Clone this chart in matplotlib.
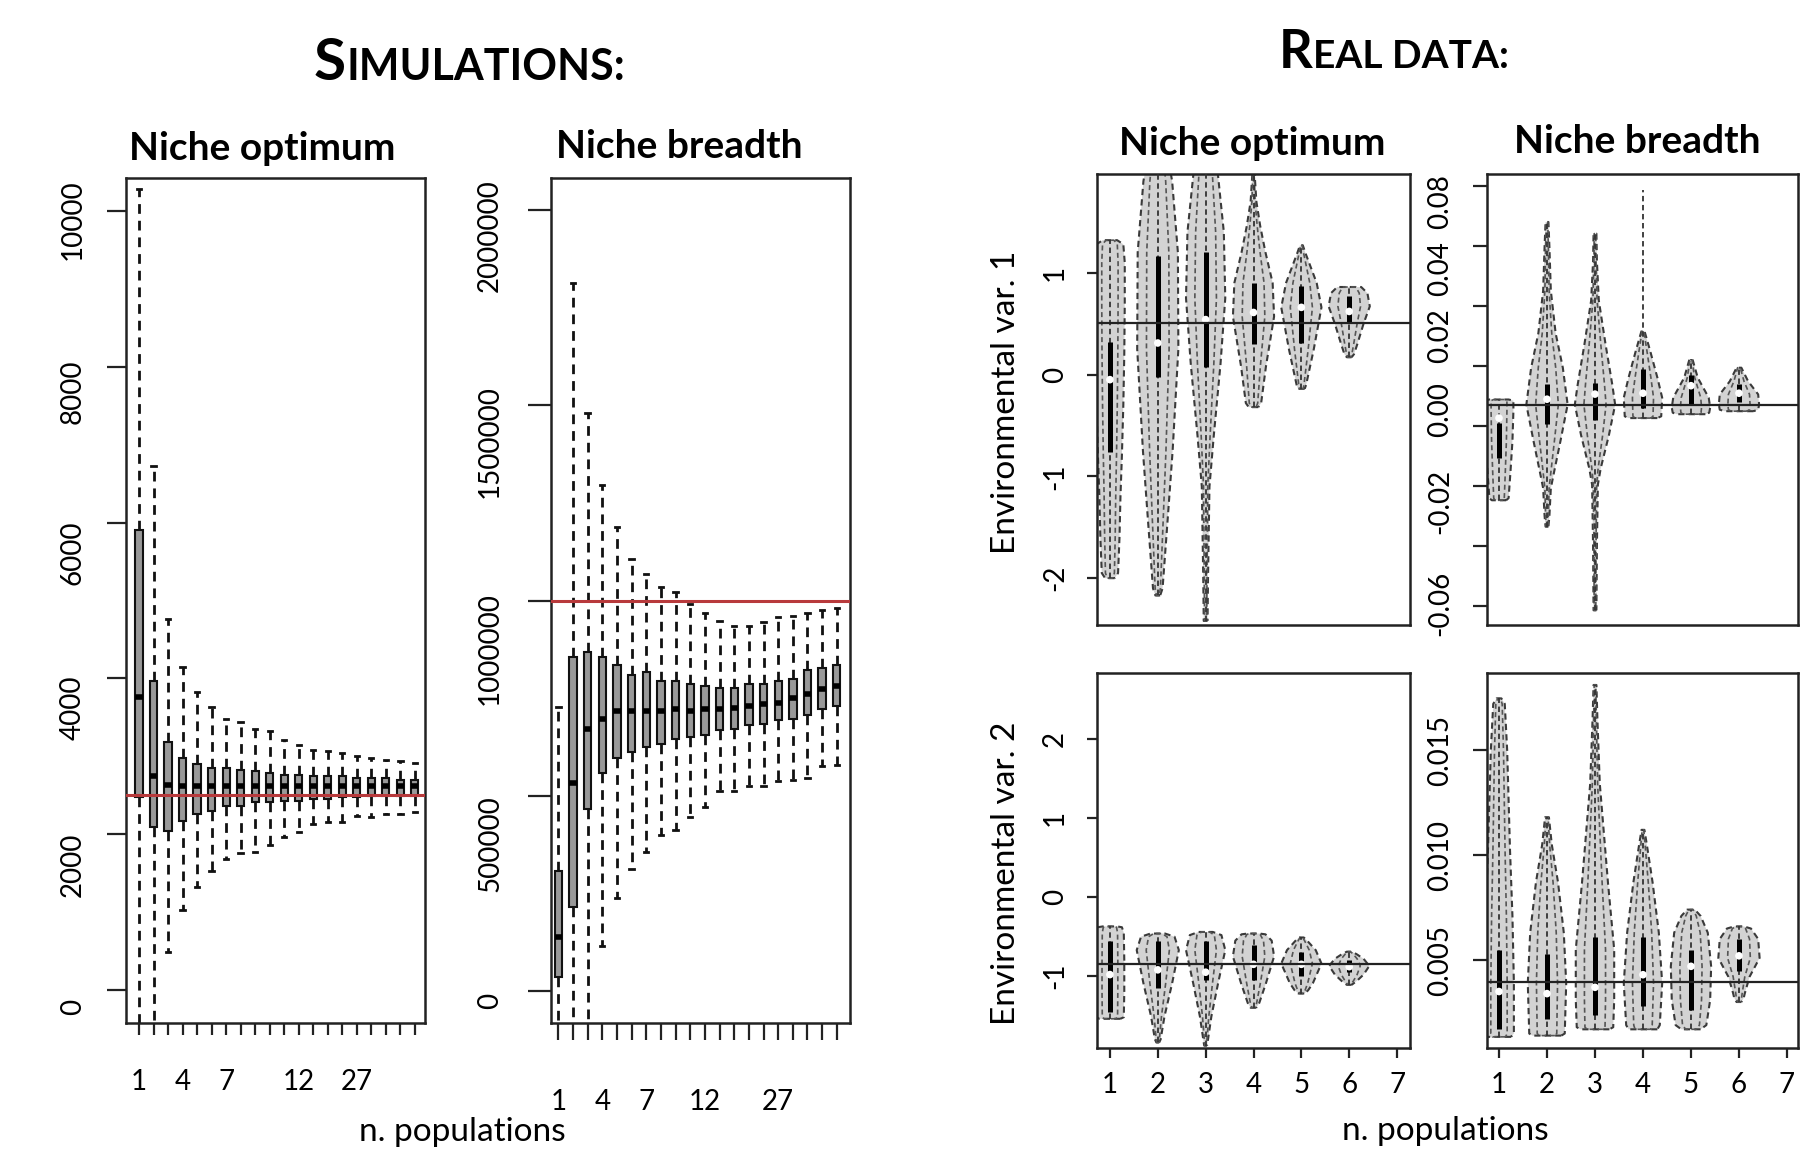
import numpy as np
import matplotlib
matplotlib.use("Agg")
import matplotlib.pyplot as plt
from matplotlib.transforms import ScaledTranslation

plt.rcParams["font.family"] = ["Lato", "DejaVu Sans"]

W, H = 1801, 1150

# ---------------- Simulations: niche optimum (20 boxes) ----------------
sim_opt_whislo = [-450, -450, 490, 1030, 1330, 1530, 1690, 1760, 1775, 1865,
                  1960, 2025, 2130, 2155, 2155, 2235, 2220, 2260, 2260, 2290]
sim_opt_q1 = [2480, 2090, 2040, 2170, 2260, 2300, 2365, 2365, 2420, 2420,
              2430, 2430, 2455, 2455, 2485, 2485, 2495, 2495, 2495, 2495]
sim_opt_med = [3760, 2745, 2630, 2615, 2615, 2615, 2615, 2615, 2625, 2625,
               2625, 2625, 2625, 2625, 2625, 2625, 2625, 2615, 2615, 2615]
sim_opt_q3 = [5900, 3970, 3180, 2980, 2900, 2850, 2850, 2820, 2810, 2785,
              2760, 2760, 2745, 2745, 2745, 2720, 2720, 2720, 2695, 2695]
sim_opt_whishi = [10285, 6730, 4760, 4150, 3830, 3630, 3480, 3440, 3350, 3330,
                  3215, 3150, 3085, 3070, 3045, 3005, 2980, 2955, 2940, 2915]
sim_opt_true = 2500

# ---------------- Simulations: niche breadth (20 boxes) ----------------
sim_br_whislo = [-90000, -90000, -90000, 116000, 237000, 313000, 355000, 400000, 413000, 445000,
                 471000, 513000, 513000, 524000, 526000, 537000, 540000, 545000, 576000, 579000]
sim_br_q1 = [37000, 216000, 466000, 558000, 597000, 611000, 624000, 632000, 645000, 650000,
             655000, 668000, 671000, 682000, 684000, 695000, 697000, 708000, 721000, 729000]
sim_br_med = [137000, 532000, 671000, 697000, 716000, 716000, 716000, 716000, 721000, 716000,
              721000, 721000, 724000, 729000, 734000, 737000, 750000, 761000, 774000, 782000]
sim_br_q3 = [308000, 856000, 869000, 856000, 835000, 808000, 816000, 795000, 795000, 787000,
             782000, 776000, 776000, 787000, 787000, 795000, 800000, 821000, 826000, 834000]
sim_br_whishi = [728000, 1812000, 1480000, 1297000, 1187000, 1105000, 1067000, 1035000, 1022000, 992000,
                 968000, 947000, 934000, 934000, 945000, 958000, 960000, 968000, 976000, 982000]
sim_br_true = 1000000

sim_opt_xlabels = {1: "1", 4: "4", 7: "7", 12: "12", 16: "27"}
sim_br_xlabels = {1: "1", 4: "4", 7: "7", 11: "12", 16: "27"}

# ---------------- Real data: violin outlines (value, half-width) ----------------
opt1_y = [[-2.0, -1.95, -1.6, -1.2, -0.8, -0.3, 0.2, 0.7, 1.1, 1.28, 1.32],
          [-2.17, -2.1, -1.4, -0.75, 0.25, 1.2, 1.9, 2.3, 2.5],
          [-2.42, -2.0, -1.1, -0.6, 0.1, 0.75, 1.4, 1.95, 2.4, 2.6],
          [-0.32, -0.28, 0.08, 0.57, 0.9, 1.2, 1.46, 1.7, 2.0],
          [-0.14, -0.1, 0.25, 0.66, 0.9, 1.2, 1.27],
          [0.17, 0.2, 0.3, 0.5, 0.67, 0.8, 0.86]]
opt1_w = [[0.1, 0.17, 0.2, 0.22, 0.25, 0.28, 0.3, 0.31, 0.31, 0.28, 0.15],
          [0.05, 0.1, 0.21, 0.31, 0.43, 0.42, 0.3, 0.15, 0.05],
          [0.04, 0.05, 0.08, 0.17, 0.31, 0.41, 0.38, 0.26, 0.12, 0.04],
          [0.1, 0.16, 0.26, 0.43, 0.4, 0.25, 0.14, 0.06, 0.02],
          [0.07, 0.1, 0.26, 0.42, 0.32, 0.08, 0.03],
          [0.05, 0.1, 0.17, 0.3, 0.43, 0.38, 0.25]]
opt1_q1 = [-0.76, -0.02, 0.07, 0.3, 0.31, 0.51]
opt1_q3 = [0.32, 1.16, 1.2, 0.9, 0.87, 0.77]
opt1_med = [-0.05, 0.31, 0.54, 0.61, 0.66, 0.62]
opt1_ref = 0.51

br1_y = [[-0.0247, -0.024, -0.015, -0.005, 0.005, 0.0085, 0.0089],
         [-0.0335, -0.03, -0.0207, -0.0151, -0.005, 0.0072, 0.0195, 0.031, 0.0452, 0.06, 0.0681],
         [-0.0614, -0.04, -0.0195, -0.014, -0.003, 0.0072, 0.0139, 0.0273, 0.0419, 0.055, 0.0642],
         [0.0027, 0.0033, 0.0095, 0.0162, 0.0251, 0.0318],
         [0.004, 0.0045, 0.0062, 0.0095, 0.0162, 0.0224],
         [0.005, 0.0055, 0.0072, 0.0106, 0.015, 0.0195]]
br1_w = [[0.15, 0.2, 0.24, 0.28, 0.3, 0.3, 0.2],
         [0.03, 0.05, 0.08, 0.15, 0.28, 0.43, 0.33, 0.18, 0.08, 0.05, 0.03],
         [0.03, 0.04, 0.06, 0.12, 0.29, 0.42, 0.36, 0.22, 0.08, 0.04, 0.03],
         [0.3, 0.38, 0.4, 0.3, 0.15, 0.03],
         [0.3, 0.38, 0.4, 0.37, 0.14, 0.03],
         [0.3, 0.4, 0.42, 0.4, 0.19, 0.05]]
br1_q1 = [-0.0107, 0.0007, 0.002, 0.006, 0.0075, 0.008]
br1_q3 = [0.001, 0.014, 0.0145, 0.019, 0.017, 0.014]
br1_med = [0.0027, 0.009, 0.0107, 0.011, 0.0135, 0.011]
br1_whishi = [0.0089, 0.0681, 0.0642, 0.0787, 0.0224, 0.0195]
br1_ref = 0.0070

opt2_y = [[-1.54, -1.52, -1.2, -0.8, -0.45, -0.38, -0.37],
          [-1.84, -1.8, -1.51, -1.09, -0.67, -0.5, -0.46],
          [-1.88, -1.8, -1.51, -1.09, -0.67, -0.48, -0.44],
          [-1.4, -1.34, -1.09, -0.75, -0.55, -0.47, -0.46],
          [-1.22, -1.18, -1.09, -0.84, -0.67, -0.55, -0.51],
          [-1.11, -1.06, -0.98, -0.87, -0.78, -0.72, -0.69]]
opt2_w = [[0.22, 0.29, 0.3, 0.3, 0.29, 0.25, 0.15],
          [0.03, 0.06, 0.14, 0.3, 0.44, 0.35, 0.15],
          [0.03, 0.05, 0.12, 0.26, 0.41, 0.33, 0.15],
          [0.06, 0.12, 0.26, 0.43, 0.38, 0.25, 0.12],
          [0.06, 0.14, 0.24, 0.42, 0.3, 0.12, 0.05],
          [0.05, 0.16, 0.3, 0.42, 0.3, 0.15, 0.05]]
opt2_q1 = [-1.45, -1.15, -1.05, -1.05, -1.0, -0.95]
opt2_q3 = [-0.55, -0.55, -0.55, -0.6, -0.7, -0.8]
opt2_med = [-0.98, -0.92, -0.95, -0.85, -0.85, -0.88]
opt2_ref = -0.85

br2_y = [[0.00134, 0.0015, 0.0039, 0.0071, 0.0102, 0.015, 0.0172, 0.01746],
         [0.0014, 0.0015, 0.0039, 0.0063, 0.0087, 0.0105, 0.0118],
         [0.0017, 0.0018, 0.0031, 0.0055, 0.0087, 0.0134, 0.0165, 0.0181],
         [0.0017, 0.0019, 0.0039, 0.0063, 0.0087, 0.0105, 0.0112],
         [0.0017, 0.0019, 0.0031, 0.0047, 0.0063, 0.0071, 0.0074],
         [0.003, 0.0032, 0.0034, 0.0042, 0.0051, 0.006, 0.0065, 0.0066]]
br2_w = [[0.25, 0.31, 0.31, 0.28, 0.23, 0.17, 0.12, 0.05],
         [0.3, 0.37, 0.4, 0.35, 0.23, 0.1, 0.04],
         [0.3, 0.38, 0.4, 0.4, 0.27, 0.1, 0.05, 0.03],
         [0.3, 0.35, 0.4, 0.33, 0.2, 0.08, 0.03],
         [0.2, 0.32, 0.4, 0.42, 0.35, 0.2, 0.08],
         [0.05, 0.1, 0.12, 0.22, 0.43, 0.4, 0.25, 0.1]]
br2_q1 = [0.0017, 0.0022, 0.0024, 0.0028, 0.0026, 0.0045]
br2_q3 = [0.0055, 0.0053, 0.0061, 0.0061, 0.0055, 0.006]
br2_med = [0.0035, 0.0034, 0.0037, 0.0043, 0.0047, 0.0052]
br2_ref = 0.00395

real_xticks = [1, 2, 3, 4, 5, 6, 7]

# tick label nudges (pixels, + = down), as they sit in the original picture
opt_sim_ylab_shift = [17, 30, 29, 30, 25, 9]
br_sim_ylab_shift = [10, 48, 48, 36, 26]
br1_ylab_shift = [-3, 0, 15, -17, -31, -38, 0, 15]


# ---------------- helpers ----------------
def px(v):
    return v * 0.72  # pixel -> points at dpi 100


def style_axis(ax, ytick_len, xtick_len, ypad, xpad):
    for s in ax.spines.values():
        s.set_linewidth(1.8)
        s.set_color("#222222")
    ax.tick_params(axis="y", length=px(ytick_len), width=1.6, pad=ypad, labelsize=20, color="#222222")
    ax.tick_params(axis="x", length=px(xtick_len), width=1.6, pad=xpad, labelsize=20, color="#222222")
    for t in ax.get_yticklabels():
        t.set_rotation(90)
        t.set_va("center")


def nudge_ylabels(ax, shifts):
    for t, s in zip(ax.get_yticklabels(), shifts):
        t.set_transform(t.get_transform() + ScaledTranslation(0, -s / 100, fig.dpi_scale_trans))


def draw_boxes(ax, whislo, q1, med, q3, whishi):
    stats = [dict(whislo=a, q1=b, med=c, q3=d, whishi=e, fliers=[])
             for a, b, c, d, e in zip(whislo, q1, med, q3, whishi)]
    ax.bxp(stats, positions=np.arange(1, len(stats) + 1), widths=0.5,
           patch_artist=True, capwidths=0.3,
           boxprops=dict(facecolor="#999999", edgecolor="#111111", linewidth=1.5),
           whiskerprops=dict(color="#111111", linewidth=2.0, linestyle=(0, (3.5, 2.5))),
           capprops=dict(color="#111111", linewidth=2.0),
           medianprops=dict(color="#000000", linewidth=4, solid_capstyle="butt"))


def draw_violins(ax, ys, ws, q1, q3, med, whishi=None):
    pos = np.arange(1, len(ys) + 1)
    stats = []
    for y, w, m in zip(ys, ws, med):
        y = np.asarray(y, float)
        stats.append(dict(coords=y, vals=np.asarray(w, float), mean=m, median=m,
                          min=y.min(), max=y.max()))
    widths = [2 * max(w) for w in ws]
    outer = ax.violin(stats, positions=pos, widths=widths, showextrema=False)
    for b in outer["bodies"]:
        b.set_facecolor("#d3d3d3")
        b.set_edgecolor("#3a3a3a")
        b.set_linestyle((0, (3, 2)))
        b.set_linewidth(1.5)
        b.set_alpha(1)
    inner = ax.violin(stats, positions=pos, widths=[0.55 * v for v in widths], showextrema=False)
    for b in inner["bodies"]:
        b.set_facecolor("none")
        b.set_edgecolor("#555555")
        b.set_linestyle((0, (3, 2)))
        b.set_linewidth(1.2)
        b.set_alpha(1)
    lo = [min(y) for y in ys]
    hi = whishi if whishi is not None else [max(y) for y in ys]
    ax.vlines(pos, lo, hi, colors="#333333", linestyles=(0, (3, 2)), linewidth=1.3, zorder=3)
    ax.vlines(pos, q1, q3, colors="black", linewidth=3.6, zorder=4)
    ax.scatter(pos, med, s=30, c="white", edgecolors="none", zorder=5)


fig = plt.figure(figsize=(W / 100, H / 100), dpi=100)

# ---- panel 1: simulations, niche optimum ----
ax1 = fig.add_axes([126 / W, 1 - 1023 / H, 299 / W, 845 / H])
draw_boxes(ax1, sim_opt_whislo, sim_opt_q1, sim_opt_med, sim_opt_q3, sim_opt_whishi)
ax1.axhline(sim_opt_true, color="#b83a3c", linewidth=2.2, zorder=5)
ax1.set_xlim(0.1, 20.7)
ax1.set_ylim(-420, 10420)
ax1.set_xticks(np.arange(1, 21))
ax1.set_xticklabels([sim_opt_xlabels.get(i, "") for i in range(1, 21)])
ax1.set_yticks([0, 2000, 4000, 6000, 8000, 10000])
ax1.set_yticklabels(["0", "2000", "4000", "6000", "8000", "10000"])
style_axis(ax1, 19, 12, px(21), px(34))
nudge_ylabels(ax1, opt_sim_ylab_shift)

# ---- panel 2: simulations, niche breadth ----
ax2 = fig.add_axes([551 / W, 1 - 1023 / H, 299 / W, 845 / H])
draw_boxes(ax2, sim_br_whislo, sim_br_q1, sim_br_med, sim_br_q3, sim_br_whishi)
ax2.axhline(sim_br_true, color="#b83a3c", linewidth=2.2, zorder=5)
ax2.set_xlim(0.5, 20.9)
ax2.set_ylim(-82000, 2082000)
ax2.set_xticks(np.arange(1, 21))
ax2.set_xticklabels([sim_br_xlabels.get(i, "") for i in range(1, 21)])
ax2.set_yticks([0, 500000, 1000000, 1500000, 2000000])
ax2.set_yticklabels(["0", "500000", "1000000", "1500000", "2000000"])
style_axis(ax2, 23, 17, px(25), px(49))
nudge_ylabels(ax2, br_sim_ylab_shift)

# ---- panel 3: real, optimum, env 1 ----
ax3 = fig.add_axes([1097 / W, 1 - 625 / H, 313 / W, 451 / H])
draw_violins(ax3, opt1_y, opt1_w, opt1_q1, opt1_q3, opt1_med)
ax3.axhline(opt1_ref, color="#222222", linewidth=1.6, zorder=6)
ax3.set_xlim(0.73, 7.27)
ax3.set_ylim(-2.46, 1.97)
ax3.set_xticks([])
ax3.set_yticks([-2, -1, 0, 1])
ax3.set_yticklabels(["-2", "-1", "0", "1"])
style_axis(ax3, 10, 10, px(19), px(14))

# ---- panel 4: real, breadth, env 1 ----
ax4 = fig.add_axes([1487 / W, 1 - 625 / H, 311 / W, 451 / H])
draw_violins(ax4, br1_y, br1_w, br1_q1, br1_q3, br1_med, br1_whishi)
ax4.axhline(br1_ref, color="#222222", linewidth=1.6, zorder=6)
ax4.set_xlim(0.75, 7.23)
ax4.set_ylim(-0.0663, 0.0841)
ax4.set_xticks([])
ax4.set_yticks([-0.06, -0.04, -0.02, 0.0, 0.02, 0.04, 0.06, 0.08])
ax4.set_yticklabels(["-0.06", "", "-0.02", "0.00", "0.02", "0.04", "", "0.08"])
style_axis(ax4, 14, 10, px(20), px(14))
nudge_ylabels(ax4, br1_ylab_shift)

# ---- panel 5: real, optimum, env 2 ----
ax5 = fig.add_axes([1097 / W, 1 - 1048 / H, 313 / W, 375 / H])
draw_violins(ax5, opt2_y, opt2_w, opt2_q1, opt2_q3, opt2_med)
ax5.axhline(opt2_ref, color="#222222", linewidth=1.6, zorder=6)
ax5.set_xlim(0.73, 7.27)
ax5.set_ylim(-1.91, 2.84)
ax5.set_xticks(real_xticks)
ax5.set_xticklabels([str(v) for v in real_xticks])
ax5.set_yticks([-1, 0, 1, 2])
ax5.set_yticklabels(["-1", "0", "1", "2"])
style_axis(ax5, 10, 10, px(19), px(14))

# ---- panel 6: real, breadth, env 2 ----
ax6 = fig.add_axes([1487 / W, 1 - 1048 / H, 311 / W, 375 / H])
draw_violins(ax6, br2_y, br2_w, br2_q1, br2_q3, br2_med)
ax6.axhline(br2_ref, color="#222222", linewidth=1.6, zorder=6)
ax6.set_xlim(0.75, 7.23)
ax6.set_ylim(0.00081, 0.01867)
ax6.set_xticks(real_xticks)
ax6.set_xticklabels([str(v) for v in real_xticks])
ax6.set_yticks([0.005, 0.010, 0.015])
ax6.set_yticklabels(["0.005", "0.010", "0.015"])
style_axis(ax6, 14, 10, px(20), px(14))

# ---- titles (small caps) ----
fig.text(346 / W, 1 - 80 / H, "S", fontsize=42, fontweight="bold", ha="right", va="baseline")
fig.text(346 / W, 1 - 80 / H, "IMULATIONS:", fontsize=31, fontweight="bold", ha="left", va="baseline")
fig.text(1313 / W, 1 - 68 / H, "R", fontsize=38, fontweight="bold", ha="right", va="baseline")
fig.text(1313 / W, 1 - 68 / H, "EAL DATA:", fontsize=28, fontweight="bold", ha="left", va="baseline")

for xc, yb, txt in [(262, 160, "Niche optimum"), (679, 158, "Niche breadth"),
                    (1252, 155, "Niche optimum"), (1637, 153, "Niche breadth")]:
    fig.text(xc / W, 1 - yb / H, txt, fontsize=28, fontweight="bold", ha="center", va="baseline")

fig.text(1006 / W, 1 - 402 / H, "Environmental var. 1", fontsize=24, rotation=90, ha="center", va="center")
fig.text(1006 / W, 1 - 873 / H, "Environmental var. 2", fontsize=24, rotation=90, ha="center", va="center")
fig.text(462 / W, 1 - 1141 / H, "n. populations", fontsize=24, ha="center", va="baseline")
fig.text(1445 / W, 1 - 1140 / H, "n. populations", fontsize=24, ha="center", va="baseline")

fig.savefig("out.png", dpi=100, facecolor="white")
